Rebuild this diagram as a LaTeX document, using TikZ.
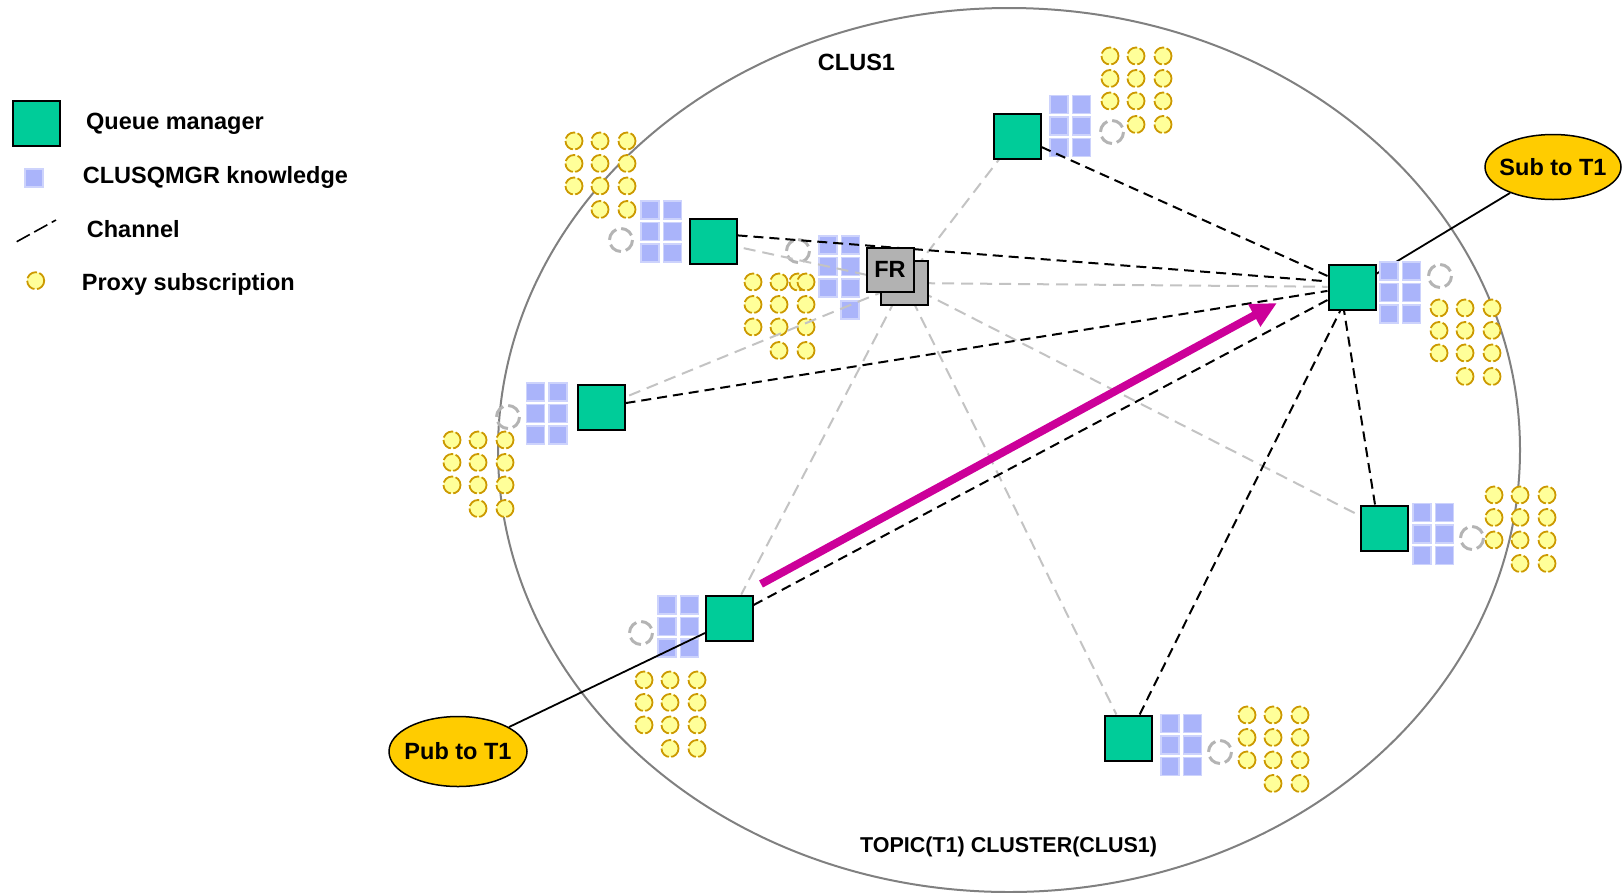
\documentclass[tikz,border=0pt]{standalone}
\usepackage{fontspec}
\setmainfont{Liberation Sans}
\usetikzlibrary{shapes.geometric,arrows.meta,calc}
\pgfdeclarelayer{bg}
\pgfdeclarelayer{deco}
\pgfdeclarelayer{lines}
\pgfsetlayers{bg,deco,lines,main}

\definecolor{qmgreen}{RGB}{0,204,153}
\definecolor{kblue}{RGB}{170,180,250}
\definecolor{kedge}{RGB}{205,211,252}
\definecolor{pyellow}{RGB}{255,255,153}
\definecolor{pgold}{RGB}{204,153,0}
\definecolor{ringgrey}{RGB}{180,180,180}
\definecolor{chgrey}{RGB}{195,195,195}
\definecolor{frgrey}{RGB}{178,178,178}
\definecolor{subgold}{RGB}{255,204,0}
\definecolor{pubmag}{RGB}{204,0,153}
\definecolor{clusgrey}{RGB}{128,128,128}

\tikzset{
  bigfont/.style={font=\fontsize{23.5}{28}\selectfont\bfseries},
  qm/.style={draw=black, line width=2pt, fill=qmgreen, minimum width=47pt, minimum height=45pt, inner sep=0pt},
  frbox/.style={draw=black, line width=2pt, fill=frgrey, minimum width=47pt, minimum height=44pt, inner sep=0pt, bigfont},
  tagell/.style={ellipse, draw=black, line width=1.5pt, fill=subgold, inner sep=0pt, bigfont},
  lbl/.style={inner sep=0pt, bigfont},
  chan/.style={draw=black, line width=2pt, dash pattern=on 10pt off 6pt},
  frlink/.style={draw=chgrey, line width=2pt, dash pattern=on 12pt off 7pt},
  know/.style={fill=kblue, draw=kedge, line width=1.5pt},
  proxy/.style={fill=pyellow, draw=pgold, line width=1.8pt, dash pattern=on 12pt off 2.5pt},
  ringc/.style={draw=ringgrey, line width=3pt, dash pattern=on 13pt off 5pt},
  tagline/.style={draw=black, line width=1.8pt}
}

\newcommand\knowgrid[2]{%
  \foreach \i in {0,1}{\foreach \j in {0,1,2}{
    \path[know] (#1+\i*22.5-9,#2+\j*21.5-9) rectangle ++(18,18);}}}
\newcommand\proxygrid[2]{%
  \foreach \dx/\dy in {0/0,26/0,53/0,0/22.5,26/22.5,53/22.5,0/45,26/45,53/45,26/68.5,53/68.5}{
    \path[proxy] (#1+\dx,#2+\dy) circle[radius=8.5];}}

\begin{document}
\begin{tikzpicture}[x=1pt,y=-1pt]
\useasboundingbox (0,0) rectangle (1622,892);

% ---------- legend ----------
\node[qm] (legqm) at (36.7,123) {};
\node[lbl, anchor=base west] (legqmt) at (86,129.3) {Queue manager};
\node[lbl, anchor=base west] (legkt) at (82.7,183.3) {CLUSQMGR knowledge};
\node[lbl, anchor=base west] (legct) at (86.7,237.3) {Channel};
\node[lbl, anchor=base west] (legpt) at (81.7,290.7) {Proxy subscription};
\coordinate (chA) at (16.7,241.7);
\coordinate (chB) at (56,220);

% ---------- labels ----------
\node[lbl, anchor=base] (clus) at (856.5,70) {CLUS1};
\node[lbl, anchor=base, font=\fontsize{21.5}{26}\selectfont\bfseries] (topic) at (1008.6,852) {TOPIC(T1) CLUSTER(CLUS1)};

% ---------- queue managers ----------
\node[qm] (tqm) at (1017,136) {};
\node[qm] (ltq) at (713,241.5) {};
\node[qm] (lqm) at (601,407) {};
\node[qm] (blq) at (729,618) {};
\node[qm] (bqm) at (1128,738) {};
\node[qm] (hub) at (1352,287) {};
\node[qm] (rlq) at (1384,528) {};

% ---------- full repository ----------
\node[frbox] (frb) at (904,283) {};
\node[frbox] (frf) at (890,269.5) {FR};

% ---------- publisher / subscriber ----------
\node[tagell, minimum width=136pt, minimum height=65pt] (sub) at (1553,167) {\makebox[0pt]{Sub to T1}};
\node[tagell, minimum width=138pt, minimum height=70pt] (pub) at (458,751.5) {\makebox[0pt]{Pub to T1}};

\coordinate (subend) at (1376,274);
\coordinate (pubend) at (705,633);
\coordinate (atail) at (761,584);
\coordinate (ahead) at (1277,303);

% ---------- background ----------
\begin{pgfonlayer}{bg}
  \draw[clusgrey, line width=2pt] (1009,450) ellipse[x radius=511, y radius=442];
  \draw[tagline] (sub) -- (subend);
\end{pgfonlayer}

% ---------- decorations ----------
\begin{pgfonlayer}{deco}
  \path[know] (25,169) rectangle (43,187);
  \path[proxy] (35.7,280.7) circle[radius=8.5];
  \knowgrid{1389}{271}
  \knowgrid{1059}{104.7}
  \knowgrid{650}{210}
  \knowgrid{828}{245}
  \path[know] (841,301) rectangle ++(18,18);
  \knowgrid{535.5}{392}
  \knowgrid{667}{605}
  \knowgrid{1170}{723.7}
  \knowgrid{1422}{512.5}
  \path[ringc] (1440,276) circle[radius=11.5];
  \path[ringc] (1112,132) circle[radius=11.5];
  \path[ringc] (621,240) circle[radius=11.5];
  \path[ringc] (798,251) circle[radius=11.5];
  \path[ringc] (508,417) circle[radius=11.5];
  \path[ringc] (641,633) circle[radius=11.5];
  \path[ringc] (1220,752) circle[radius=11.5];
  \path[ringc] (1472,538) circle[radius=11.5];
  \path[proxy] (798,282) circle[radius=8.5];
  \proxygrid{1439}{308}
  \proxygrid{1110}{56}
  \proxygrid{574}{141}
  \proxygrid{753}{282}
  \proxygrid{452}{440}
  \proxygrid{644}{680}
  \proxygrid{1247}{715}
  \proxygrid{1494}{495}
\end{pgfonlayer}

% ---------- connectors ----------
\begin{pgfonlayer}{lines}
  \draw[line width=1.6pt, dash pattern=on 15pt off 5pt] (chA) -- (chB);
  \foreach \q in {tqm,ltq,lqm,blq,bqm,hub,rlq}{
    \draw[frlink] (frb.center) -- (\q);}
  \draw[chan] ($(ltq.north east)!0.37!(ltq.south east)$) -- ($(hub.north west)!0.38!(hub.south west)$);
  \draw[chan] (tqm) -- (hub);
  \draw[chan] (lqm) -- (hub);
  \draw[chan] (blq) -- (hub);
  \draw[chan] (bqm) -- (hub);
  \draw[chan] ([xshift=-9pt]rlq.north) -- ([xshift=-8pt]hub.south);
  \draw[tagline] (pub) -- (pubend);
  \draw[pubmag, line width=8pt, -{Triangle[length=26pt,width=24pt]}] (atail) -- (ahead);
\end{pgfonlayer}
\end{tikzpicture}
\end{document}
